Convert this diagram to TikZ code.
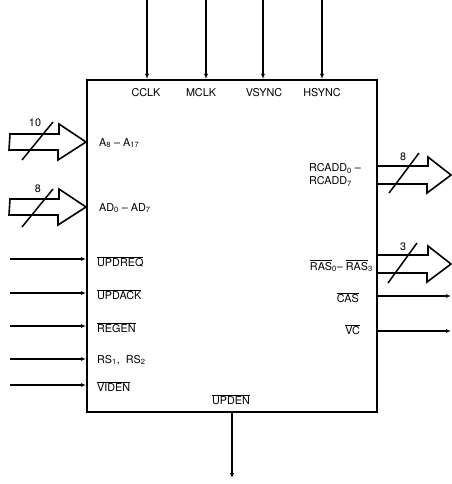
\documentclass[tikz,border=0pt]{standalone}
\usepackage{fontspec}
\setmainfont{TeX Gyre Heros}
\usetikzlibrary{arrows.meta}

\newcommand{\barrado}[1]{$\overline{\mbox{#1}}$}

\begin{document}
\begin{tikzpicture}[
		x=1pt, y=-1pt,
		caixa/.style={
			draw,
			rectangle,
			minimum width=290pt,
			minimum height=332pt,
			line width=2pt
		},
		seta/.style={
			-{Latex[length=5pt, width=4pt]},
			line width=1.4pt
		},
		grossa/.style={
			draw,
			line width=1.6pt,
			line join=miter
		},
		barra/.style={
			line width=1.5pt
		},
		rotulo/.style={
			font=\fontsize{10.8}{12.5}\selectfont,
			inner sep=0pt
		}
		]
		\useasboundingbox (0,0) rectangle (451,484);
		
		\node[caixa] (chip) at (232,246) {};
		
		%Entradas de cima
		\coordinate (cclk) at (147,0);
		\coordinate (mclk) at (206,0);
		\coordinate (vsync) at (263,0);
		\coordinate (hsync) at (322,0);
		\draw[seta] (cclk) -- (cclk |- chip.north);
		\draw[seta] (mclk) -- (mclk |- chip.north);
		\draw[seta] (vsync) -- (vsync |- chip.north);
		\draw[seta] (hsync) -- (hsync |- chip.north);
		\node[rotulo] (lcclk) at (146,93) {CCLK};
		\node[rotulo] (lmclk) at (201,93) {MCLK};
		\node[rotulo] (lvsync) at (264,93) {VSYNC};
		\node[rotulo] (lhsync) at (322,93) {HSYNC};
		
		%Barramentos da esquerda
		\coordinate (endA) at (10,142);
		\coordinate (endAD) at (10,207);
		\draw[grossa] (endA) ++(0,-8) -- ++(49,0) -- ++(0,-10) -- (endA -| chip.west)
			-- ++(-28,18) -- ++(0,-10) -- ++(-49,0) -- cycle;
		\draw[grossa] (endAD) ++(0,-8) -- ++(49,0) -- ++(0,-10) -- (endAD -| chip.west)
			-- ++(-28,18) -- ++(0,-10) -- ++(-49,0) -- cycle;
		\draw[barra] (endA) ++(12,18) -- ++(31,-38);
		\draw[barra] (endAD) ++(12,20) -- ++(31,-38);
		\path (endA) ++(25,-19) node[rotulo] (nA) {10};
		\path (endAD) ++(28,-18) node[rotulo] (nAD) {8};
		\node[rotulo, anchor=west] (lA) at (99,143) {A\textsubscript{8} -- A\textsubscript{17}};
		\node[rotulo, anchor=west] (lAD) at (99,208) {AD\textsubscript{0} -- AD\textsubscript{7}};
		
		%Entradas da esquerda
		\coordinate (updreq) at (10,259);
		\coordinate (updack) at (10,293);
		\coordinate (regen) at (10,326);
		\coordinate (rs) at (10,359);
		\coordinate (viden) at (10,385);
		\draw[seta] (updreq) -- (updreq -| chip.west);
		\draw[seta] (updack) -- (updack -| chip.west);
		\draw[seta] (regen) -- (regen -| chip.west);
		\draw[seta] (rs) -- (rs -| chip.west);
		\draw[seta] (viden) -- (viden -| chip.west);
		\node[rotulo, anchor=west] (lupdreq) at (97,262) {\barrado{UPDREQ}};
		\node[rotulo, anchor=west] (lupdack) at (97,295) {\barrado{UPDACK}};
		\node[rotulo, anchor=west] (lregen) at (97,328) {\barrado{REGEN}};
		\node[rotulo, anchor=west] (lrs) at (97,360) {RS\textsubscript{1},\ \ RS\textsubscript{2}};
		\node[rotulo, anchor=west] (lviden) at (97,387) {\barrado{VIDEN}};
		
		%Barramentos da direita
		\coordinate (endR) at (451,175);
		\coordinate (endRAS) at (451,264);
		\draw[grossa] (endR -| chip.east) ++(0,-9) -- ++(50,0) -- ++(0,-9) -- (endR)
			-- ++(-24,18) -- ++(0,-9) -- ++(-50,0);
		\draw[grossa] (endRAS -| chip.east) ++(0,-9) -- ++(50,0) -- ++(0,-9) -- (endRAS)
			-- ++(-24,18) -- ++(0,-9) -- ++(-50,0);
		\draw[barra] (endR) ++(-62,18) -- ++(30,-40);
		\draw[barra] (endRAS) ++(-63,19) -- ++(29,-40);
		\path (endR) ++(-48,-18) node[rotulo] (nR) {8};
		\path (endRAS) ++(-48,-17) node[rotulo] (nRAS) {3};
		\node[rotulo, anchor=west, align=left] (lR) at (309,175) {RCADD\textsubscript{0} --\\RCADD\textsubscript{7}};
		\node[rotulo, anchor=east] (lRAS) at (373,266) {\barrado{RAS}\textsubscript{0}-- \barrado{RAS}\textsubscript{3}};
		
		%Saidas da direita
		\coordinate (cas) at (451,296);
		\coordinate (vc) at (451,331);
		\draw[seta] (cas -| chip.east) -- (cas);
		\draw[seta] (vc -| chip.east) -- (vc);
		\node[rotulo, anchor=east] (lcas) at (359,298) {\barrado{CAS}};
		\node[rotulo, anchor=east] (lvc) at (360,330) {\barrado{VC}};
		
		%Saida de baixo
		\coordinate (upden) at (232,478);
		\draw[seta] (upden |- chip.south) -- (upden);
		\node[rotulo] (lupden) at (231,400) {\barrado{UPDEN}};
		
	\end{tikzpicture}
\end{document}
